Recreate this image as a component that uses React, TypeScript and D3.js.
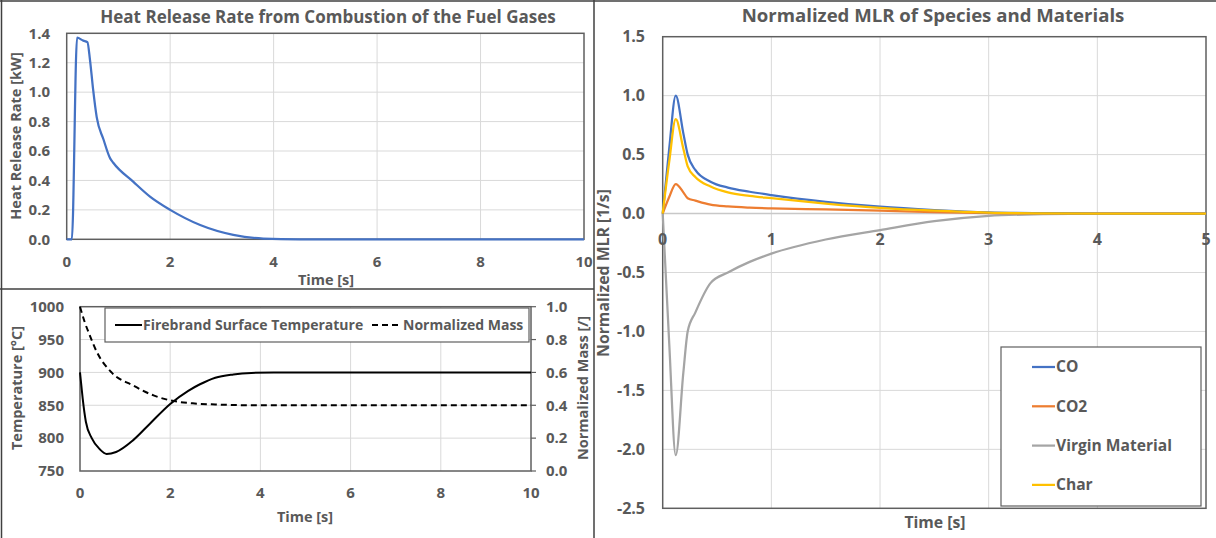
import React from "react";
import * as d3 from "d3";

// ---------- Data ----------
const hrrTime = [0, 0.1, 0.2, 0.32, 0.4, 0.45, 0.51, 0.58, 0.71, 0.84, 0.9, 1.29, 1.61, 2.0, 2.58, 3.22, 3.8, 4.5, 6, 8, 10];
const hrrValue = [0, 0, 1.37, 1.35, 1.34, 1.22, 1.02, 0.83, 0.68, 0.55, 0.52, 0.39, 0.29, 0.2, 0.097, 0.03, 0.005, 0, 0, 0, 0];

const tempTime = [0, 0.03, 0.06, 0.13, 0.26, 0.44, 0.59, 0.8, 1.18, 1.55, 2.0, 2.4, 2.66, 3.0, 3.4, 3.8, 4.3, 5, 7, 10];
const tempValue = [900, 880, 860, 825, 800, 783, 776, 779, 797, 822, 852, 872, 882, 892, 897, 899.3, 900, 900, 900, 900];

const massTime = [0, 0.1, 0.2, 0.37, 0.7, 1.18, 1.63, 2.0, 2.5, 3.0, 4.0, 6, 10];
const massValue = [1.0, 0.91, 0.837, 0.726, 0.6, 0.52, 0.46, 0.43, 0.412, 0.405, 0.4, 0.4, 0.4];

const mlrTime = [0, 0.06, 0.12, 0.19, 0.23, 0.3, 0.44, 0.6, 0.8, 1.0, 1.5, 2.0, 2.5, 3.0, 3.5, 4.0, 5.0];
const coValue = [0, 0.55, 1.0, 0.68, 0.5, 0.37, 0.27, 0.22, 0.185, 0.157, 0.1, 0.058, 0.03, 0.01, 0.003, 0, 0];
const co2Value = [0, 0.14, 0.25, 0.18, 0.13, 0.11, 0.075, 0.06, 0.05, 0.044, 0.035, 0.025, 0.013, 0.004, 0.001, 0, 0];
const virginValue = [0, -1.1, -2.05, -1.35, -1.0, -0.84, -0.59, -0.5, -0.41, -0.34, -0.22, -0.14, -0.065, -0.02, -0.005, 0, 0];
const charValue = [0, 0.44, 0.8, 0.55, 0.4, 0.31, 0.23, 0.18, 0.15, 0.13, 0.085, 0.048, 0.024, 0.008, 0.002, 0, 0];

const mlrSeriesNames = ["CO", "CO2", "Virgin Material", "Char"];
const mlrSeriesColors = ["#4472C4", "#ED7D31", "#A5A5A5", "#FFC000"];

const hrrYTicks = [0, 0.2, 0.4, 0.6, 0.8, 1.0, 1.2, 1.4];
const timeTicks10 = [0, 2, 4, 6, 8, 10];
const tempTicks = [750, 800, 850, 900, 950, 1000];
const massTicks = [0, 0.2, 0.4, 0.6, 0.8, 1.0];
const mlrYTicks = [-2.5, -2.0, -1.5, -1.0, -0.5, 0, 0.5, 1.0, 1.5];
const mlrXTicks = [0, 1, 2, 3, 4, 5];

// ---------- Styles ----------
const FONT = "'Open Sans', Lato, sans-serif";
const TXT = "#595959";
const GRID = "#d9d9d9";
const FRAME = "#5f5f5f";

function zip(xs: number[], ys: number[]) {
  return xs.map((x, i) => [x, ys[i]] as [number, number]);
}

function st(size: number) {
  return { fontFamily: FONT, fontWeight: 700, fontSize: size, fill: TXT } as const;
}

export default function App() {
  // ---------- Top-left: HRR ----------
  const x1 = d3.scaleLinear().domain([0, 10]).range([66.7, 584]);
  const y1 = d3.scaleLinear().domain([0, 1.4]).range([239.3, 33.3]);
  const line1 = d3.line<[number, number]>().x((d) => x1(d[0])).y((d) => y1(d[1])).curve(d3.curveMonotoneX);

  // ---------- Bottom-left: Temperature & mass ----------
  const x2 = d3.scaleLinear().domain([0, 10]).range([80, 531]);
  const y2 = d3.scaleLinear().domain([750, 1000]).range([471, 306.7]);
  const y2r = d3.scaleLinear().domain([0, 1]).range([471, 306.7]);
  const lineT = d3.line<[number, number]>().x((d) => x2(d[0])).y((d) => y2(d[1])).curve(d3.curveMonotoneX);
  const lineM = d3.line<[number, number]>().x((d) => x2(d[0])).y((d) => y2r(d[1])).curve(d3.curveMonotoneX);

  // ---------- Right: MLR ----------
  const x3 = d3.scaleLinear().domain([0, 5]).range([662.7, 1206]);
  const y3 = d3.scaleLinear().domain([-2.5, 1.5]).range([508.3, 36.7]);
  const line3 = d3.line<[number, number]>().x((d) => x3(d[0])).y((d) => y3(d[1])).curve(d3.curveMonotoneX);
  const mlrSeries = [coValue, co2Value, virginValue, charValue];
  const drawOrder = [2, 1, 0, 3];

  const tickStyle = st(15);
  const titleStyle = st(17);
  const axTitleStyle = st(14.5);
  const legStyle = st(14);
  const rTick = st(16);
  const rTitle = st(18.6);
  const rAxTitle = st(15.8);
  const rLeg = st(15.6);

  return (
    <svg
      width={1216}
      height={538}
      style={{ position: "fixed", left: 0, top: 0, background: "#fff" }}
    >
      <rect x={0} y={0} width={1216} height={538} fill="#fff" />
      {/* panel frames */}
      <line x1={0} y1={1} x2={1216} y2={1} stroke="#404040" strokeWidth={1.5} />
      <line x1={1.5} y1={0} x2={1.5} y2={538} stroke="#404040" strokeWidth={1.5} />
      <line x1={0} y1={289} x2={594} y2={289} stroke="#404040" strokeWidth={1.5} />
      <line x1={594} y1={0} x2={594} y2={538} stroke="#404040" strokeWidth={1.5} />

      {/* ===== Top-left chart ===== */}
      <text x={328} y={23} textAnchor="middle" style={titleStyle}>
        Heat Release Rate from Combustion of the Fuel Gases
      </text>
      {timeTicks10.slice(1, -1).map((t) => (
        <line key={"g1x" + t} x1={x1(t)} x2={x1(t)} y1={y1(1.4)} y2={y1(0)} stroke={GRID} />
      ))}
      {hrrYTicks.slice(1, -1).map((t) => (
        <line key={"g1y" + t} x1={x1(0)} x2={x1(10)} y1={y1(t)} y2={y1(t)} stroke={GRID} />
      ))}
      <rect x={x1(0)} y={y1(1.4)} width={x1(10) - x1(0)} height={y1(0) - y1(1.4)} fill="none" stroke={FRAME} strokeWidth={1.5} />
      <path d={line1(zip(hrrTime, hrrValue)) || ""} fill="none" stroke="#4472C4" strokeWidth={2.25} />
      {hrrYTicks.map((t) => (
        <text key={"t1y" + t} x={50} y={y1(t)} dy="0.35em" textAnchor="end" style={tickStyle}>
          {t.toFixed(1)}
        </text>
      ))}
      {timeTicks10.map((t) => (
        <text key={"t1x" + t} x={x1(t)} y={267} textAnchor="middle" style={tickStyle}>
          {t}
        </text>
      ))}
      <text x={326} y={285} textAnchor="middle" style={axTitleStyle}>Time [s]</text>
      <text transform="translate(21,136) rotate(-90)" textAnchor="middle" style={axTitleStyle}>
        Heat Release Rate [kW]
      </text>

      {/* ===== Bottom-left chart ===== */}
      {timeTicks10.slice(1, -1).map((t) => (
        <line key={"g2x" + t} x1={x2(t)} x2={x2(t)} y1={y2(1000)} y2={y2(750)} stroke={GRID} />
      ))}
      {tempTicks.slice(1, -1).map((t) => (
        <line key={"g2y" + t} x1={x2(0)} x2={x2(10)} y1={y2(t)} y2={y2(t)} stroke={GRID} />
      ))}
      <rect x={x2(0)} y={y2(1000)} width={x2(10) - x2(0)} height={y2(750) - y2(1000)} fill="none" stroke={FRAME} strokeWidth={1.5} />
      {massTicks.map((t) => (
        <line key={"k2r" + t} x1={x2(10)} x2={x2(10) + 5} y1={y2r(t)} y2={y2r(t)} stroke={FRAME} strokeWidth={1.2} />
      ))}
      <path d={lineM(zip(massTime, massValue)) || ""} fill="none" stroke="#000" strokeWidth={2} strokeDasharray="6 4" />
      <path d={lineT(zip(tempTime, tempValue)) || ""} fill="none" stroke="#000" strokeWidth={2} />
      {/* legend */}
      <rect x={105} y={308} width={424} height={34} fill="#fff" stroke={FRAME} strokeWidth={1.2} />
      <line x1={115} x2={142} y1={325} y2={325} stroke="#000" strokeWidth={2} />
      <text x={143} y={325} dy="0.35em" style={legStyle}>Firebrand Surface Temperature</text>
      <line x1={372} x2={402} y1={325} y2={325} stroke="#000" strokeWidth={2} strokeDasharray="6 4" />
      <text x={403} y={325} dy="0.35em" style={legStyle}>Normalized Mass</text>
      {tempTicks.map((t) => (
        <text key={"t2y" + t} x={64} y={y2(t)} dy="0.35em" textAnchor="end" style={tickStyle}>
          {t}
        </text>
      ))}
      {massTicks.map((t) => (
        <text key={"t2r" + t} x={546} y={y2r(t)} dy="0.35em" textAnchor="start" style={tickStyle}>
          {t.toFixed(1)}
        </text>
      ))}
      {timeTicks10.map((t) => (
        <text key={"t2x" + t} x={x2(t)} y={498} textAnchor="middle" style={tickStyle}>
          {t}
        </text>
      ))}
      <text x={305} y={522} textAnchor="middle" style={axTitleStyle}>Time [s]</text>
      <text transform="translate(22,388) rotate(-90)" textAnchor="middle" style={axTitleStyle}>
        Temperature [°C]
      </text>
      <text transform="translate(588,388) rotate(-90)" textAnchor="middle" style={axTitleStyle}>
        Normalized Mass [/]
      </text>

      {/* ===== Right chart ===== */}
      <text x={933} y={22} textAnchor="middle" style={rTitle}>
        Normalized MLR of Species and Materials
      </text>
      {mlrXTicks.slice(1, -1).map((t) => (
        <line key={"g3x" + t} x1={x3(t)} x2={x3(t)} y1={y3(1.5)} y2={y3(-2.5)} stroke={GRID} />
      ))}
      {mlrYTicks.slice(1, -1).map((t) => (
        <line key={"g3y" + t} x1={x3(0)} x2={x3(5)} y1={y3(t)} y2={y3(t)} stroke={t === 0 ? "#c8c8c8" : GRID} strokeWidth={t === 0 ? 1.5 : 1} />
      ))}
      <rect x={x3(0)} y={y3(1.5)} width={x3(5) - x3(0)} height={y3(-2.5) - y3(1.5)} fill="none" stroke={FRAME} strokeWidth={1.5} />
      {drawOrder.map((i) => (
        <path key={"s" + i} d={line3(zip(mlrTime, mlrSeries[i])) || ""} fill="none" stroke={mlrSeriesColors[i]} strokeWidth={2.25} />
      ))}
      {mlrYTicks.map((t) => (
        <text key={"t3y" + t} x={645} y={y3(t)} dy="0.35em" textAnchor="end" style={rTick}>
          {t.toFixed(1)}
        </text>
      ))}
      {mlrXTicks.map((t) => (
        <text key={"t3x" + t} x={x3(t)} y={245} textAnchor="middle" style={rTick}>
          {t}
        </text>
      ))}
      <text x={935} y={528} textAnchor="middle" style={rAxTitle}>Time [s]</text>
      <text transform="translate(609,273) rotate(-90)" textAnchor="middle" style={rAxTitle}>
        Normalized MLR [1/s]
      </text>
      {/* legend */}
      <rect x={1001} y={347} width={200} height={159} fill="#fff" stroke={FRAME} strokeWidth={1.2} />
      {mlrSeriesNames.map((n, i) => (
        <g key={"lg" + n}>
          <line x1={1032} x2={1055} y1={367 + i * 39.3} y2={367 + i * 39.3} stroke={mlrSeriesColors[i]} strokeWidth={2.25} />
          <text x={1056} y={367 + i * 39.3} dy="0.35em" style={rLeg}>{n}</text>
        </g>
      ))}
    </svg>
  );
}
